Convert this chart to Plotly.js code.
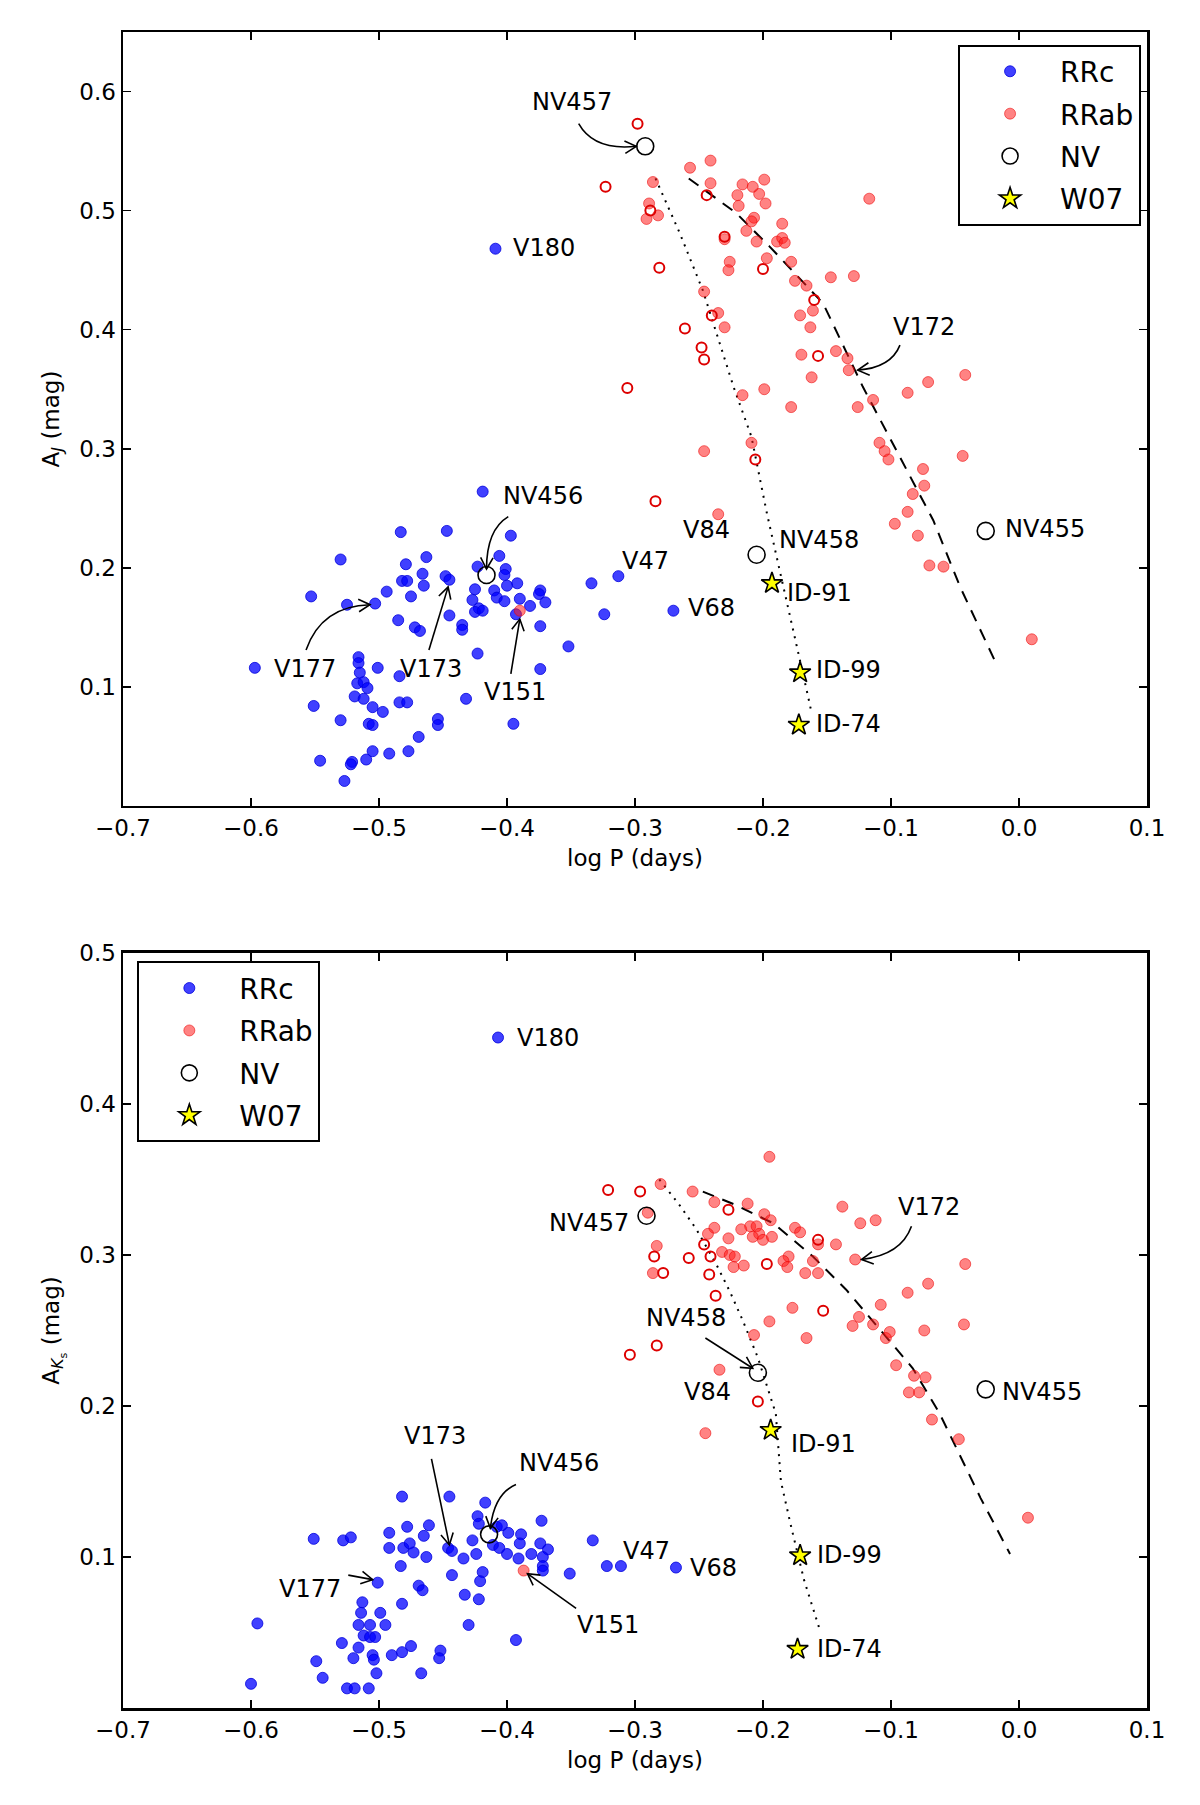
<!DOCTYPE html>
<html>
<head>
<meta charset="utf-8">
<script src="https://cdn.plot.ly/plotly-3.0.1.min.js"></script>
<style>html,body{margin:0;padding:0;background:#fff}</style>
</head>
<body>
<div id="chart" style="width:1200px;height:1805px"></div>
<script>
// ---------- top panel: A_J vs log P ----------
var jRRcX = [-0.409,-0.419,-0.483,-0.447,-0.397,-0.530,-0.479,-0.463,-0.466,-0.465,-0.482,-0.478,-0.448,-0.445,-0.553,-0.525,-0.503,-0.494,-0.475,-0.485,-0.472,-0.468,-0.445,-0.435,-0.435,
  -0.423,-0.406,-0.401,-0.402,-0.400,-0.392,-0.425,-0.427,-0.422,-0.425,-0.419,-0.410,-0.408,-0.402,-0.390,-0.382,-0.374,-0.375,-0.370,-0.393,
  -0.374,-0.334,-0.324,-0.352,-0.423,-0.597,-0.501,-0.516,-0.516,-0.515,-0.484,-0.374,-0.517,-0.512,-0.509,-0.519,-0.512,-0.432,-0.551,-0.484,
  -0.478,-0.505,-0.497,-0.530,-0.508,-0.505,-0.454,-0.454,-0.395,-0.469,-0.477,-0.492,-0.505,-0.510,-0.546,-0.521,-0.522,-0.527,-0.313,-0.270];
var jRRcY = [0.468,0.264,0.230,0.231,0.227,0.207,0.203,0.209,0.195,0.185,0.189,0.189,0.193,0.190,0.176,0.169,0.170,0.180,0.176,0.156,0.150,0.147,0.160,0.152,0.148,
  0.201,0.210,0.199,0.194,0.185,0.187,0.182,0.173,0.166,0.163,0.164,0.181,0.175,0.172,0.174,0.168,0.181,0.178,0.171,0.161,
  0.151,0.187,0.161,0.134,0.128,0.116,0.116,0.125,0.120,0.112,0.109,0.115,0.103,0.104,0.099,0.092,0.090,0.090,0.084,0.087,
  0.087,0.083,0.079,0.072,0.069,0.068,0.073,0.068,0.069,0.058,0.046,0.044,0.046,0.039,0.038,0.037,0.035,0.021,0.193,0.164];

var jRRabX = [-0.241,-0.257,-0.241,-0.286,-0.216,-0.208,-0.199,-0.203,-0.220,-0.198,-0.219,-0.289,-0.282,-0.291,-0.207,-0.209,-0.213,-0.230,-0.205,-0.189,-0.185,-0.183,-0.185,-0.197,-0.178,-0.226,-0.227,
  -0.117,-0.147,-0.129,-0.175,-0.166,-0.161,-0.171,-0.163,-0.246,-0.235,-0.230,-0.170,-0.143,-0.134,-0.133,-0.162,-0.199,
  -0.042,-0.071,-0.087,-0.114,-0.126,-0.178,-0.216,-0.209,-0.246,-0.109,-0.105,-0.102,-0.044,-0.075,-0.074,-0.083,-0.087,-0.097,-0.079,-0.235,-0.070,-0.059,0.010,-0.390];
var jRRabY = [0.542,0.536,0.523,0.524,0.522,0.520,0.526,0.514,0.513,0.506,0.504,0.506,0.496,0.493,0.494,0.491,0.483,0.476,0.474,0.474,0.477,0.473,0.489,0.460,0.457,0.457,0.450,
  0.510,0.444,0.445,0.441,0.437,0.416,0.412,0.402,0.432,0.414,0.402,0.379,0.382,0.376,0.366,0.360,0.350,
  0.362,0.356,0.347,0.341,0.335,0.335,0.345,0.305,0.298,0.305,0.298,0.291,0.294,0.283,0.269,0.262,0.247,0.237,0.227,0.245,0.202,0.201,0.140,0.164];

var jOpenX = [-0.298,-0.323,-0.244,-0.288,-0.230,-0.281,-0.200,-0.160,-0.240,-0.261,-0.248,-0.246,-0.157,-0.306,-0.284,-0.206];
var jOpenY = [0.573,0.520,0.513,0.500,0.478,0.452,0.451,0.425,0.412,0.401,0.385,0.375,0.378,0.351,0.256,0.291];

var jNVX = [-0.292,-0.416,-0.205,-0.026];
var jNVY = [0.554,0.194,0.211,0.231];
var jW07X = [-0.193,-0.171,-0.172];
var jW07Y = [0.187,0.112,0.068];

var jDotX = [-0.284,-0.265,-0.247,-0.223,-0.209,-0.197,-0.187,-0.178,-0.165,-0.162];
var jDotY = [0.527,0.481,0.433,0.352,0.310,0.246,0.198,0.156,0.093,0.078];
var jDashX = [-0.258,-0.221,-0.195,-0.153,-0.122,-0.093,-0.067,-0.046,-0.018];
var jDashY = [0.527,0.498,0.470,0.422,0.352,0.293,0.240,0.184,0.120];

// ---------- bottom panel: A_Ks vs log P ----------
var kRRcX = [-0.407,-0.482,-0.445,-0.417,-0.373,-0.423,-0.422,-0.478,-0.461,-0.465,-0.492,-0.551,-0.528,-0.522,-0.492,-0.481,-0.476,-0.473,-0.463,-0.446,-0.443,
  -0.434,-0.427,-0.424,-0.408,-0.404,-0.399,-0.389,-0.390,-0.411,-0.406,-0.400,-0.391,-0.381,-0.374,-0.368,-0.372,-0.372,-0.372,-0.351,-0.333,-0.322,-0.311,
  -0.483,-0.501,-0.443,-0.419,-0.421,-0.469,-0.466,-0.433,-0.422,-0.482,-0.430,-0.393,-0.513,-0.514,-0.499,-0.516,-0.507,-0.495,-0.512,-0.507,-0.503,
  -0.529,-0.516,-0.520,-0.505,-0.504,-0.502,-0.490,-0.482,-0.475,-0.452,-0.453,-0.467,-0.549,-0.544,-0.525,-0.519,-0.508,-0.600,-0.595,-0.268];
var kRRcY = [0.444,0.140,0.140,0.136,0.124,0.127,0.122,0.120,0.121,0.114,0.116,0.112,0.111,0.113,0.106,0.106,0.109,0.103,0.100,0.106,0.104,
  0.099,0.111,0.102,0.120,0.121,0.116,0.115,0.109,0.108,0.106,0.102,0.099,0.102,0.109,0.105,0.100,0.094,0.091,0.089,0.111,0.094,0.094,
  0.094,0.083,0.088,0.090,0.084,0.081,0.078,0.075,0.072,0.069,0.055,0.045,0.070,0.063,0.063,0.055,0.055,0.055,0.048,0.047,0.047,
  0.043,0.040,0.033,0.035,0.032,0.023,0.035,0.037,0.041,0.038,0.033,0.023,0.031,0.020,0.013,0.013,0.013,0.016,0.056,0.093];

var kRRabX = [-0.195,-0.280,-0.255,-0.238,-0.212,-0.199,-0.194,-0.138,-0.124,-0.112,-0.290,-0.238,-0.243,-0.217,-0.210,-0.205,-0.203,-0.208,-0.200,-0.193,-0.175,-0.171,
  -0.227,-0.157,-0.143,-0.283,-0.232,-0.226,-0.222,-0.223,-0.215,-0.286,-0.180,-0.184,-0.181,-0.161,-0.167,-0.157,-0.128,-0.042,-0.071,-0.087,-0.108,
  -0.177,-0.195,-0.125,-0.130,-0.114,-0.074,-0.043,-0.101,-0.104,-0.207,-0.166,-0.096,-0.082,-0.073,-0.086,-0.078,-0.068,-0.234,
  -0.245,-0.047,0.007,-0.387];
var kRRabY = [0.365,0.347,0.342,0.335,0.334,0.327,0.323,0.332,0.321,0.323,0.328,0.318,0.314,0.317,0.319,0.319,0.314,0.312,0.310,0.312,0.318,0.315,
  0.311,0.307,0.307,0.306,0.302,0.300,0.299,0.292,0.293,0.288,0.299,0.296,0.292,0.296,0.288,0.288,0.297,0.294,0.281,0.275,0.267,
  0.265,0.256,0.259,0.253,0.254,0.250,0.254,0.249,0.245,0.247,0.245,0.227,0.220,0.219,0.209,0.209,0.191,0.224,
  0.182,0.178,0.126,0.091];

var kOpenX = [-0.321,-0.296,-0.227,-0.157,-0.246,-0.285,-0.258,-0.241,-0.278,-0.242,-0.197,-0.237,-0.153,-0.283,-0.304,-0.204];
var kOpenY = [0.343,0.342,0.330,0.310,0.307,0.299,0.298,0.299,0.288,0.287,0.294,0.273,0.263,0.240,0.234,0.203];

var kNVX = [-0.291,-0.414,-0.204,-0.026];
var kNVY = [0.326,0.115,0.222,0.211];
var kW07X = [-0.194,-0.171,-0.173];
var kW07Y = [0.184,0.101,0.039];

var kDotX = [-0.281,-0.266,-0.252,-0.236,-0.226,-0.216,-0.204,-0.190,-0.186,-0.178,-0.168,-0.155];
var kDotY = [0.350,0.334,0.317,0.293,0.276,0.257,0.232,0.195,0.150,0.120,0.085,0.050];
var kDashX = [-0.247,-0.221,-0.192,-0.161,-0.135,-0.109,-0.083,-0.062,-0.045,-0.030,-0.007];
var kDashY = [0.342,0.333,0.321,0.299,0.277,0.251,0.225,0.195,0.165,0.139,0.102];

// ---------- labels: [text, x, y, anchor] ----------
var jLabels = [
  ['NV457',-0.349,0.591,'center'],['V180',-0.397,0.469,'left'],['NV456',-0.372,0.260,'center'],
  ['V47',-0.292,0.206,'center'],['V84',-0.244,0.232,'center'],['NV458',-0.156,0.223,'center'],
  ['V68',-0.240,0.166,'center'],['ID-91',-0.156,0.179,'center'],['ID-99',-0.133,0.114,'center'],
  ['ID-74',-0.133,0.069,'center'],['NV455',-0.0125,0.233,'left'],['V172',-0.074,0.402,'center'],
  ['V177',-0.558,0.115,'center'],['V173',-0.459,0.115,'center'],['V151',-0.394,0.096,'center']
];
var kLabels = [
  ['V180',-0.3935,0.444,'left'],['NV457',-0.303,0.321,'right'],['NV458',-0.260,0.258,'center'],
  ['V84',-0.243,0.209,'center'],['V172',-0.070,0.332,'center'],['NV455',-0.0147,0.209,'left'],
  ['ID-91',-0.180,0.175,'left'],['ID-99',-0.159,0.101,'left'],['ID-74',-0.159,0.039,'left'],
  ['V47',-0.291,0.104,'center'],['V68',-0.239,0.093,'center'],['V173',-0.456,0.180,'center'],
  ['NV456',-0.359,0.162,'center'],['V177',-0.554,0.079,'center'],['V151',-0.321,0.055,'center']
];

// arrows: [tailX, tailY, ctrlX, ctrlY, headX, headY]
var jArrows = [
  [-0.344,0.573,-0.332,0.550,-0.299,0.554],
  [-0.399,0.243,-0.416,0.232,-0.416,0.199],
  [-0.093,0.387,-0.100,0.368,-0.126,0.366],
  [-0.557,0.131,-0.545,0.168,-0.507,0.169],
  [-0.461,0.131,-0.4535,0.1575,-0.446,0.184],
  [-0.397,0.111,-0.3935,0.134,-0.390,0.157]
];
var kArrows = [
  [-0.393,0.148,-0.410,0.142,-0.413,0.119],
  [-0.084,0.319,-0.092,0.300,-0.123,0.297],
  [-0.245,0.245,-0.2265,0.235,-0.208,0.225],
  [-0.459,0.165,-0.452,0.1365,-0.445,0.108],
  [-0.524,0.088,-0.5145,0.0865,-0.505,0.085],
  [-0.346,0.066,-0.365,0.0775,-0.384,0.089]
];

var xTicks = [-0.7,-0.6,-0.5,-0.4,-0.3,-0.2,-0.1,0.0,0.1];
var xTickText = ['\u22120.7','\u22120.6','\u22120.5','\u22120.4','\u22120.3','\u22120.2','\u22120.1','0.0','0.1'];
var jTicks = [0.1,0.2,0.3,0.4,0.5,0.6];
var kTicks = [0.1,0.2,0.3,0.4,0.5];

var blue = {color:'rgba(0,0,255,0.75)', size:11, line:{color:'rgba(0,0,220,0.8)', width:1}};
var red = {color:'rgba(255,30,30,0.55)', size:11, line:{color:'rgba(235,0,0,0.55)', width:1}};
var openRed = {symbol:'circle-open', color:'#dd0000', size:10, line:{width:2}};
var nvMk = {symbol:'circle-open', color:'black', size:17, line:{width:1.6}};
var starMk = {symbol:'star', color:'yellow', size:16, line:{color:'black', width:1.6}};

function panel(sfx, leg, rrcX, rrcY, abX, abY, opX, opY, nvX, nvY, wX, wY, dotX, dotY, dashX, dashY) {
    var xa = 'x' + sfx, ya = 'y' + sfx;
    return [
        {x:dotX, y:dotY, xaxis:xa, yaxis:ya, mode:'lines', line:{color:'black', width:2, dash:'2px,6px'}, showlegend:false, hoverinfo:'skip'},
        {x:dashX, y:dashY, xaxis:xa, yaxis:ya, mode:'lines', line:{color:'black', width:2, dash:'12px,9px'}, showlegend:false, hoverinfo:'skip'},
        {x:rrcX, y:rrcY, xaxis:xa, yaxis:ya, mode:'markers', marker:blue, name:'RRc', legend:leg, legendgroup:leg+'a'},
        {x:abX, y:abY, xaxis:xa, yaxis:ya, mode:'markers', marker:red, name:'RRab', legend:leg, legendgroup:leg+'b'},
        {x:opX, y:opY, xaxis:xa, yaxis:ya, mode:'markers', marker:openRed, showlegend:false},
        {x:nvX, y:nvY, xaxis:xa, yaxis:ya, mode:'markers', marker:nvMk, name:'NV', legend:leg, legendgroup:leg+'c'},
        {x:wX, y:wY, xaxis:xa, yaxis:ya, mode:'markers', marker:starMk, name:'W07', legend:leg, legendgroup:leg+'d'}
    ];
}

var data = panel('', 'legend', jRRcX, jRRcY, jRRabX, jRRabY, jOpenX, jOpenY, jNVX, jNVY, jW07X, jW07Y, jDotX, jDotY, jDashX, jDashY)
    .concat(panel('2', 'legend2', kRRcX, kRRcY, kRRabX, kRRabY, kOpenX, kOpenY, kNVX, kNVY, kW07X, kW07Y, kDotX, kDotY, kDashX, kDashY));

function bez(t, a, c, b) { return (1-t)*(1-t)*a + 2*(1-t)*t*c + t*t*b; }

var annotations = [], shapes = [];
// pxX, pxY: pixels per data unit, used to make the open "->" heads
function addPanel(labels, arrows, xr, yr, pxX, pxY) {
    labels.forEach(function (l) {
        annotations.push({text:l[0], x:l[1], y:l[2], xref:xr, yref:yr, xanchor:l[3], yanchor:'middle',
            showarrow:false, font:{size:24, color:'black'}});
    });
    arrows.forEach(function (a) {
        shapes.push({type:'path', xref:xr, yref:yr,
            path:'M' + a[0] + ',' + a[1] + ' Q' + a[2] + ',' + a[3] + ' ' + a[4] + ',' + a[5],
            line:{color:'black', width:1.6}});
        var bx = bez(0.9, a[0], a[2], a[4]), by = bez(0.9, a[1], a[3], a[5]);
        var dx = (bx - a[4]) * pxX, dy = (by - a[5]) * pxY;
        var len = Math.sqrt(dx*dx + dy*dy), ux = dx/len, uy = dy/len;
        var L = 13, ang = 0.5;
        var p = [ang, -ang].map(function (s) {
            var c = Math.cos(s), sn = Math.sin(s);
            return [a[4] + L*(ux*c - uy*sn)/pxX, a[5] + L*(ux*sn + uy*c)/pxY];
        });
        shapes.push({type:'path', xref:xr, yref:yr,
            path:'M' + p[0][0] + ',' + p[0][1] + ' L' + a[4] + ',' + a[5] + ' L' + p[1][0] + ',' + p[1][1],
            line:{color:'black', width:1.6}});
    });
}
addPanel(jLabels, jArrows, 'x', 'y', 1280, 1190.8);
addPanel(kLabels, kArrows, 'x2', 'y2', 1280, 1510);

function xAxis(anchor) {
    return {anchor:anchor, domain:[0,1], range:[-0.7,0.1], tickvals:xTicks, ticktext:xTickText,
        ticks:'inside', ticklen:8, tickwidth:1.5, tickcolor:'black', mirror:'allticks', showline:true,
        linewidth:2.5, linecolor:'black', showgrid:false, zeroline:false,
        tickfont:{size:23}, title:{text:'log P (days)', font:{size:23}, standoff:10}};
}
function yAxis(anchor, dom, rng, ticks, title) {
    return {anchor:anchor, domain:dom, range:rng, tickvals:ticks, ticktext:ticks.map(function (v) { return v.toFixed(1); }),
        ticks:'inside', ticklen:8, tickwidth:1.5, tickcolor:'black', mirror:'allticks', showline:true,
        linewidth:2.5, linecolor:'black', showgrid:false, zeroline:false,
        tickfont:{size:23}, title:{text:title, font:{size:23}, standoff:14}};
}

var legendBase = {bgcolor:'white', bordercolor:'black', borderwidth:2, font:{size:28, color:'black'},
    xanchor:'left', yanchor:'top', tracegroupgap:3, itemwidth:90};

var layout = {
    width:1200, height:1805,
    margin:{l:123, r:53, t:32, b:97},
    paper_bgcolor:'white', plot_bgcolor:'white',
    font:{family:'DejaVu Sans', size:23, color:'black'},
    xaxis:xAxis('y'),
    yaxis:yAxis('x', [0.5382,1], [0,0.65], jTicks, 'A<sub><i>J</i></sub> (mag)'),
    xaxis2:xAxis('y2'),
    yaxis2:yAxis('x2', [0,0.4505], [0,0.5], kTicks, 'A<sub><i>K</i><sub>s</sub></sub> (mag)'),
    legend:Object.assign({}, legendBase, {x:0.8155, y:0.9925}),
    legend2:Object.assign({}, legendBase, {x:0.014, y:0.4455}),
    annotations:annotations,
    shapes:shapes
};

Plotly.newPlot('chart', data, layout, {staticPlot:true});
</script>
</body>
</html>
